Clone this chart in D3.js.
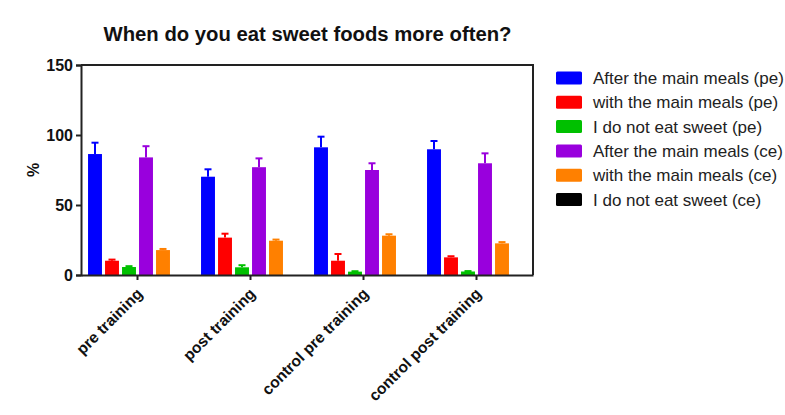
<!DOCTYPE html>
<html>
<head>
<meta charset="utf-8">
<script src="https://cdn.jsdelivr.net/npm/d3@7"></script>
<style>
  body { margin: 0; background: #fff; }
  svg { display: block; font-family: "Liberation Sans", Arial, sans-serif; }
</style>
</head>
<body>
<svg id="chart" width="785" height="415"></svg>
<script>
// Survey groups on the x axis
const groups = ["pre training", "post training", "control pre training", "control post training"];

// Response series (pe / ce answers)
const seriesNames = [
  "After the main meals (pe)",
  "with the main meals (pe)",
  "I do not eat sweet (pe)",
  "After the main meals (ce)",
  "with the main meals (ce)",
  "I do not eat sweet (ce)"
];
const seriesColors = ["#0000ff", "#ff0000", "#00c000", "#9900dd", "#ff8000", "#000000"];

// Mean percentages per series, one value per group
const afterPe = [86.4, 70.2, 91.2, 89.8];
const withPe = [10.2, 26.7, 10.2, 12.6];
const noSweetPe = [5.7, 5.5, 2.4, 2.5];
const afterCe = [84.0, 77.0, 75.0, 79.8];
const withCe = [17.8, 24.5, 28.1, 22.6];
const noSweetCe = [0, 0, 0, 0];

// Upper error (SEM) per series
const errAfterPe = [8.1, 5.3, 7.6, 5.9];
const errWithPe = [0.8, 2.8, 4.8, 0.8];
const errNoSweetPe = [0.6, 1.5, 0.3, 0.3];
const errAfterCe = [8.0, 6.3, 4.8, 7.1];
const errWithCe = [0.8, 0.8, 1.0, 0.9];
const errNoSweetCe = [0, 0, 0, 0];

const yTicks = [0, 50, 100, 150];

const values = [afterPe, withPe, noSweetPe, afterCe, withCe, noSweetCe];
const errors = [errAfterPe, errWithPe, errNoSweetPe, errAfterCe, errWithCe, errNoSweetCe];

const svg = d3.select("#chart");
const plotLeft = 81, plotRight = 533, plotTop = 65, plotBottom = 275;

const x0 = d3.scaleBand().domain(groups).range([plotLeft, plotRight]).paddingInner(0).paddingOuter(0);
const x1 = d3.scaleBand().domain(d3.range(seriesNames.length)).range([5.5, x0.bandwidth() - 5.5]).paddingInner(0.18).paddingOuter(0.09);
const y = d3.scaleLinear().domain([0, 150]).range([plotBottom, plotTop]);

// Title
svg.append("text")
  .attr("x", 307.5).attr("y", 41)
  .attr("text-anchor", "middle")
  .attr("font-size", 20.3).attr("font-weight", "bold").attr("fill", "#111")
  .text("When do you eat sweet foods more often?");

// Bars with upper error bars
const data = [];
groups.forEach((g, gi) => {
  values.forEach((vals, si) => {
    data.push({ g, si, v: vals[gi], e: errors[si][gi] });
  });
});

const barG = svg.append("g");
data.filter(d => d.v > 0).forEach(d => {
  const bx = x0(d.g) + x1(d.si);
  const bw = x1.bandwidth();
  const cx = bx + bw / 2;
  barG.append("rect")
    .attr("x", bx).attr("y", y(d.v))
    .attr("width", bw).attr("height", y(0) - y(d.v))
    .attr("fill", seriesColors[d.si]);
  if (d.e > 0) {
    barG.append("line")
      .attr("x1", cx).attr("x2", cx)
      .attr("y1", y(d.v)).attr("y2", y(d.v + d.e))
      .attr("stroke", seriesColors[d.si]).attr("stroke-width", 2);
    barG.append("line")
      .attr("x1", cx - 3.5).attr("x2", cx + 3.5)
      .attr("y1", y(d.v + d.e)).attr("y2", y(d.v + d.e))
      .attr("stroke", seriesColors[d.si]).attr("stroke-width", 2);
  }
});

// Frame: top and right edges
svg.append("path")
  .attr("d", `M${plotLeft},${plotTop}H${plotRight}V${plotBottom}`)
  .attr("fill", "none").attr("stroke", "#222").attr("stroke-width", 2);

// Y axis
const yAxis = svg.append("g")
  .attr("transform", `translate(${plotLeft},0)`)
  .call(d3.axisLeft(y).tickValues(yTicks).tickSize(5).tickPadding(3));
yAxis.select(".domain").attr("stroke", "#222").attr("stroke-width", 2);
yAxis.selectAll(".tick line").attr("stroke", "#222").attr("stroke-width", 2);
yAxis.selectAll(".tick text")
  .attr("font-size", 16).attr("font-weight", "bold").attr("fill", "#111")
  .attr("font-family", "Liberation Sans, Arial, sans-serif");

// X axis
const xAxis = svg.append("g")
  .attr("transform", `translate(0,${plotBottom})`)
  .call(d3.axisBottom(x0).tickSize(5).tickSizeOuter(0).tickPadding(4));
xAxis.select(".domain").attr("stroke", "#222").attr("stroke-width", 2);
xAxis.selectAll(".tick line").attr("stroke", "#222").attr("stroke-width", 2);
xAxis.selectAll(".tick text")
  .attr("font-size", 15.6).attr("font-weight", "bold").attr("fill", "#111")
  .attr("font-family", "Liberation Sans, Arial, sans-serif")
  .attr("text-anchor", "end")
  .attr("x", 0).attr("y", 0)
  .attr("dy", "0.35em")
  .attr("transform", "translate(2,16) rotate(-45)");

// Y axis label
svg.append("text")
  .attr("transform", "translate(39,170) rotate(-90)")
  .attr("text-anchor", "middle")
  .attr("font-size", 16).attr("font-weight", "bold").attr("fill", "#111")
  .text("%");

// Legend
const legend = svg.append("g").attr("transform", "translate(556,78)");
seriesNames.forEach((name, i) => {
  const row = legend.append("g").attr("transform", `translate(0,${i * 24.3})`);
  row.append("rect")
    .attr("x", 0).attr("y", -6.5).attr("width", 26).attr("height", 13).attr("rx", 1.5)
    .attr("fill", seriesColors[i]);
  row.append("text")
    .attr("x", 37).attr("y", 0).attr("dy", "0.36em")
    .attr("font-size", 17).attr("fill", "#222")
    .text(name);
});
</script>
</body>
</html>
